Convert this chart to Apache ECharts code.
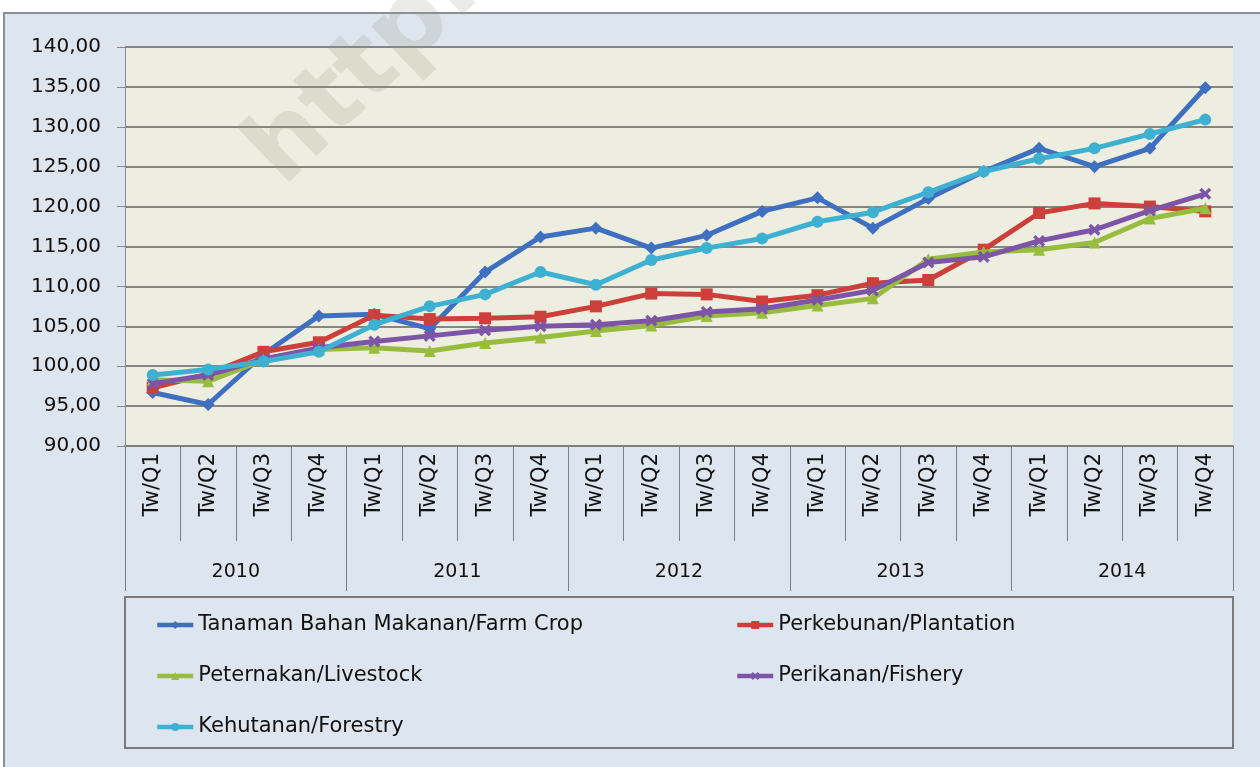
<!DOCTYPE html>
<html>
<head>
<meta charset="utf-8">
<script src="https://cdn.jsdelivr.net/npm/echarts@6/dist/echarts.min.js"></script>
<style>
html,body{margin:0;padding:0;background:#ffffff;}
#frame{position:absolute;left:3px;top:12px;width:1262px;height:760px;background:#dde5ef;border-top:2px solid #8a8f96;border-left:2px solid #8a8f96;box-sizing:border-box;}
#chart{position:absolute;left:0;top:0;width:1260px;height:767px;}
</style>
</head>
<body>
<div id="frame"></div>
<div id="chart"></div>
<script>
// ---- data ----
const quarterLabels = ['Tw/Q1','Tw/Q2','Tw/Q3','Tw/Q4','Tw/Q1','Tw/Q2','Tw/Q3','Tw/Q4','Tw/Q1','Tw/Q2','Tw/Q3','Tw/Q4','Tw/Q1','Tw/Q2','Tw/Q3','Tw/Q4','Tw/Q1','Tw/Q2','Tw/Q3','Tw/Q4'];
const yearLabels = ['2010','2011','2012','2013','2014'];
const seriesNames = ['Tanaman Bahan Makanan/Farm Crop','Perkebunan/Plantation','Peternakan/Livestock','Perikanan/Fishery','Kehutanan/Forestry'];
const farmCrop   = [96.7, 95.2, 101.5, 106.3, 106.5, 104.7, 111.8, 116.2, 117.3, 114.8, 116.4, 119.4, 121.1, 117.3, 121.0, 124.4, 127.3, 125.0, 127.3, 134.9];
const plantation = [97.3, 99.0, 101.8, 103.0, 106.4, 105.9, 106.0, 106.2, 107.5, 109.1, 109.0, 108.1, 108.9, 110.4, 110.8, 114.6, 119.2, 120.4, 120.0, 119.4];
const livestock  = [98.3, 98.1, 100.8, 102.1, 102.3, 101.9, 102.9, 103.6, 104.4, 105.1, 106.3, 106.7, 107.6, 108.5, 113.4, 114.3, 114.6, 115.5, 118.5, 119.8];
const fishery    = [97.8, 98.9, 100.9, 102.3, 103.1, 103.8, 104.5, 105.0, 105.2, 105.7, 106.8, 107.2, 108.3, 109.5, 113.0, 113.7, 115.7, 117.1, 119.5, 121.6];
const forestry   = [98.9, 99.6, 100.6, 101.8, 105.2, 107.5, 109.0, 111.8, 110.2, 113.3, 114.8, 116.0, 118.1, 119.3, 121.8, 124.4, 126.0, 127.3, 129.1, 130.9];
const yMin = 90, yMax = 140, yStep = 5;

// ---- styles ----
const FONT = 'DejaVu Sans';
const colors = ['#3f6fc0', '#cc3f3a', '#98bd3e', '#7d55a6', '#3eb0d2'];
const symbols = ['diamond', 'rect', 'triangle',
  'path://M2,0 L5,3 L8,0 L10,2 L7,5 L10,8 L8,10 L5,7 L2,10 L0,8 L3,5 L0,2 Z', 'circle'];
const symbolSizes = [13, 12, 12, 12, 12];
const seriesData = [farmCrop, plantation, livestock, fishery, forestry];

const chart = echarts.init(document.getElementById('chart'), null, {renderer: 'canvas'});

const series = seriesNames.map((name, i) => ({
  name: name,
  type: 'line',
  xAxisIndex: 0,
  yAxisIndex: 0,
  data: seriesData[i],
  symbol: symbols[i],
  symbolSize: symbolSizes[i],
  showAllSymbol: true,
  lineStyle: {color: colors[i], width: 5},
  itemStyle: {color: colors[i]},
  emphasis: {disabled: true},
  z: 3 + i
}));

const legendCommon = {
  orient: 'vertical',
  itemWidth: 36,
  itemHeight: 10,
  itemGap: 29,
  lineStyle: {width: 4.5},
  textStyle: {fontFamily: FONT, fontSize: 21, color: '#111', lineHeight: 22},
  selectedMode: false
};

chart.setOption({
  animation: false,
  color: colors,
  grid: {
    left: 125, right: 27, top: 47, bottom: 321,
    show: true, backgroundColor: '#edeedf', borderWidth: 0
  },
  xAxis: [
    {
      type: 'category',
      data: quarterLabels,
      position: 'bottom',
      boundaryGap: true,
      axisLine: {show: true, lineStyle: {color: '#7f7f7f', width: 2}},
      axisTick: {show: true, interval: 0, length: 95, lineStyle: {color: '#7f7f7f', width: 1}},
      axisLabel: {interval: 0, rotate: 90, margin: 7, fontFamily: FONT, fontSize: 21, color: '#111'},
      splitLine: {show: false}
    },
    {
      type: 'category',
      data: yearLabels,
      position: 'bottom',
      boundaryGap: true,
      axisLine: {show: false},
      axisTick: {show: true, interval: 0, length: 145, lineStyle: {color: '#7f7f7f', width: 1}},
      axisLabel: {interval: 0, margin: 117, fontFamily: FONT, fontSize: 19, color: '#111'},
      splitLine: {show: false}
    }
  ],
  yAxis: {
    type: 'value',
    min: yMin, max: yMax, interval: yStep,
    axisLine: {show: true, lineStyle: {color: '#8a8a8a', width: 1}},
    axisTick: {show: true, length: 8, lineStyle: {color: '#8a8a8a'}},
    axisLabel: {
      margin: 24, fontFamily: FONT, fontSize: 20, color: '#111',
      formatter: v => v.toFixed(2).replace('.', ',')
    },
    splitLine: {show: true, lineStyle: {color: '#858585', width: 2}}
  },
  legend: [
    Object.assign({}, legendCommon, {left: 150, top: 609, data: [seriesNames[0], seriesNames[2], seriesNames[4]]}),
    Object.assign({}, legendCommon, {left: 730, top: 609, data: [seriesNames[1], seriesNames[3]]})
  ],
  graphic: [
    {
      type: 'rect', z: 0, silent: true,
      shape: {x: 125, y: 597, width: 1108, height: 151},
      style: {fill: 'none', stroke: '#7a7a7a', lineWidth: 2}
    },
    {
      type: 'text', z: 1, silent: true,
      x: 300, y: 205, rotation: Math.PI * 44 / 180,
      style: {text: 'http://', fontFamily: FONT, fontWeight: 'bold', fontSize: 100,
        fill: 'rgba(150,150,130,0.2)', textVerticalAlign: 'bottom'}
    }
  ],
  series: series
});
</script>
</body>
</html>
